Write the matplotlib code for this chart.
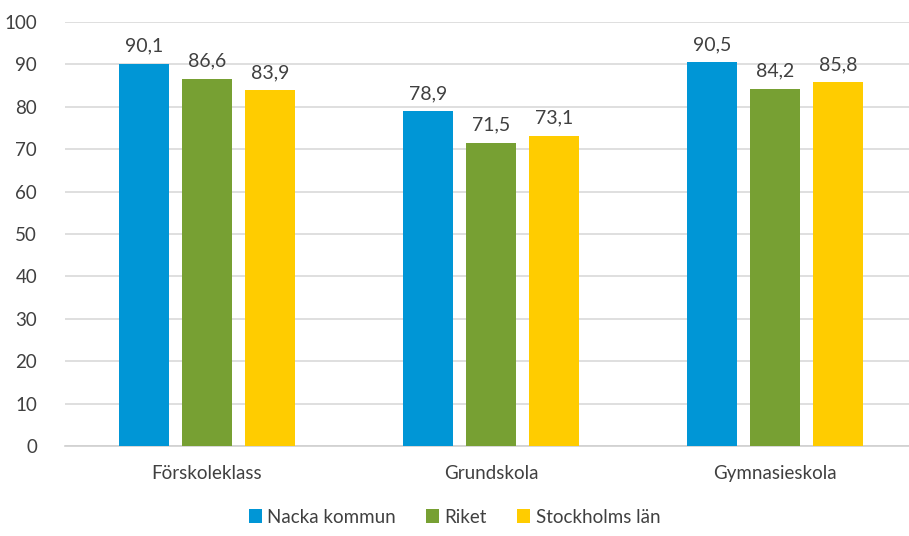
import numpy as np
import matplotlib.pyplot as plt

plt.rcParams['font.family'] = ['Lato', 'DejaVu Sans']

# data
categories = ['Förskoleklass', 'Grundskola', 'Gymnasieskola']
series_names = ['Nacka kommun', 'Riket', 'Stockholms län']
nacka = [90.1, 78.9, 90.5]
riket = [86.6, 71.5, 84.2]
stockholm = [83.9, 73.1, 85.8]
colors = ['#0096D6', '#77A033', '#FFCC00']

text_col = '#404040'

fig = plt.figure(figsize=(9.09, 5.36), dpi=100)
ax = fig.add_axes([65 / 909, 90 / 536, 852 / 909, 424 / 536])

x = np.arange(len(categories))
width = 0.176
step = 0.222
for i, (vals, name, col) in enumerate(zip([nacka, riket, stockholm], series_names, colors)):
    pos = x + (i - 1) * step
    ax.bar(pos, vals, width, color=col, label=name, zorder=3)
    for p, v in zip(pos, vals):
        ax.text(p, v + 2.2, f'{v:.1f}'.replace('.', ','), ha='center', va='bottom',
                fontsize=14, color=text_col)

ax.set_xlim(-0.5, 2.5)
ax.set_ylim(0, 100)
ax.set_yticks(range(0, 101, 10))
ax.set_xticks(x)
ax.set_xticklabels(categories)
ax.grid(axis='y', color='#d9d9d9', linewidth=1.2, zorder=0)
for s in ['top', 'right', 'left']:
    ax.spines[s].set_visible(False)
ax.spines['bottom'].set_color('#d0d0d0')
ax.spines['bottom'].set_linewidth(1.2)
ax.tick_params(axis='both', length=0, labelsize=13.5, labelcolor=text_col)
ax.tick_params(axis='x', pad=14)
ax.tick_params(axis='y', pad=20)

fig.legend(loc='lower center', bbox_to_anchor=(0.5, -0.012), ncol=3, frameon=False,
           fontsize=13.5, handlelength=0.7, handleheight=0.7, handletextpad=0.3,
           columnspacing=1.6, labelcolor=text_col)

fig.savefig('out.png', dpi=100)
